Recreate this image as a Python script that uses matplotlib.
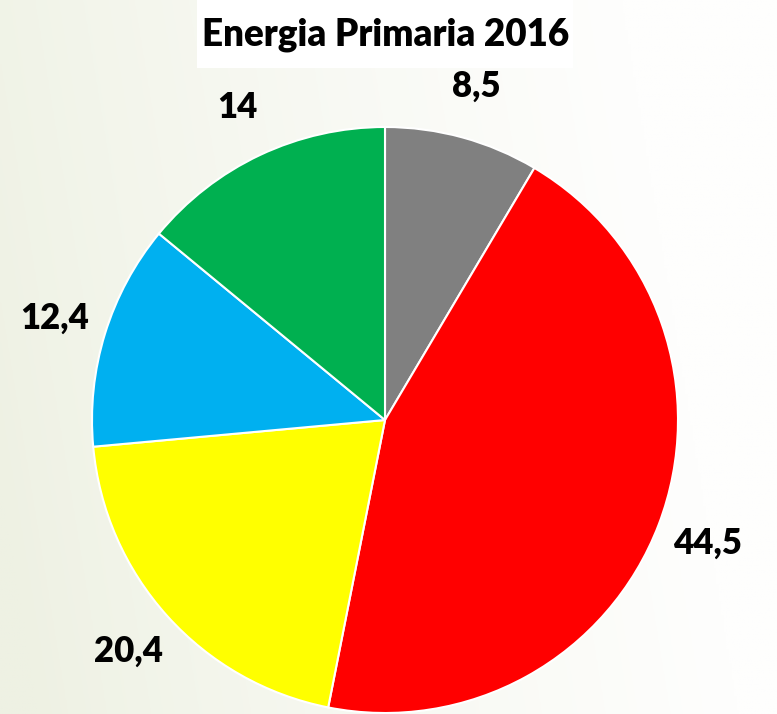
import numpy as np
import matplotlib
matplotlib.use('Agg')
import matplotlib.pyplot as plt
from matplotlib.patches import Rectangle

# 数据
values = [8.5, 44.5, 20.4, 12.4, 14]
labels = ['8,5', '44,5', '20,4', '12,4', '14']
colors = ['#808080', '#FF0000', '#FFFF00', '#00B0F0', '#00B050']
title = 'Energia Primaria 2016'

W, H = 777, 714
fig = plt.figure(figsize=(W / 100, H / 100), dpi=100)

# 背景渐变 (左边浅绿灰 -> 右边白)
bg = fig.add_axes([0, 0, 1, 1], zorder=-10)
xx, yy = np.meshgrid(np.linspace(0, 1, 300), np.linspace(0, 1, 300))
t = np.clip((xx - 0.15 * yy + 0.1) / 0.9, 0, 1) ** 0.8
c0 = np.array([238, 241, 227]) / 255.0
c1 = np.array([254, 254, 253]) / 255.0
img = c0[None, None, :] * (1 - t[..., None]) + c1[None, None, :] * t[..., None]
bg.imshow(img, aspect='auto', extent=[0, 1, 0, 1], origin='upper')
bg.axis('off')

# 饼图
cx, cy, r = 385, 420, 293
ax = fig.add_axes([(cx - r) / W, (H - cy - r) / H, 2 * r / W, 2 * r / H])
wedges, texts = ax.pie(values, labels=labels, colors=colors, startangle=90,
                       counterclock=False, labeldistance=1.18,
                       wedgeprops=dict(edgecolor='white', linewidth=1.5),
                       textprops=dict(fontsize=25, fontweight='heavy',
                                      family='Lato', color='black'))
for tx in texts:
    tx.set_ha('center')
    tx.set_va('center')
ax.set_xlim(-1, 1)
ax.set_ylim(-1, 1)
ax.set_aspect('equal')

# 标题 (白底框)
fig.patches.append(Rectangle((197 / W, 1 - 68 / H), (573 - 197) / W, 68 / H,
                             transform=fig.transFigure, facecolor='white',
                             edgecolor='none', zorder=1))
fig.text(385.5 / W, 1 - 45 / H, title, ha='center', va='baseline',
         fontsize=26.5, fontweight='heavy', family='Lato', zorder=2)

fig.savefig('out.png', dpi=100)
